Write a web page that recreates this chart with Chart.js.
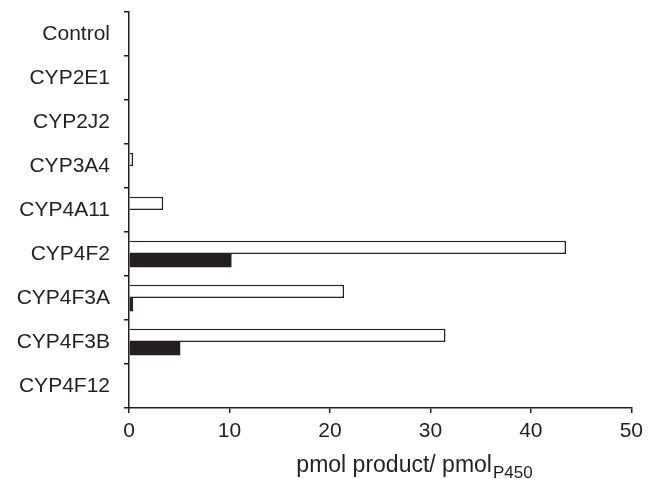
<!DOCTYPE html>
<html>
<head>
<meta charset="utf-8">
<script src="https://cdn.jsdelivr.net/npm/chart.js@4"></script>
<style>
	body { margin: 0; background: #fff; }
	canvas { display: block; }
</style>
</head>
<body>
<canvas id="grafico" width="649" height="479"></canvas>
<script>
const categorias = ['Control', 'CYP2E1', 'CYP2J2', 'CYP3A4', 'CYP4A11', 'CYP4F2', 'CYP4F3A', 'CYP4F3B', 'CYP4F12'];
// barras blancas (borde negro)
const valoresBlancos = [null, null, null, 0.4, 3.4, 43.5, 21.4, 31.5, null];
// barras negras
const valoresNegros = [null, null, null, null, null, 10.2, 0.4, 5.1, null];
const ticksX = [0, 10, 20, 30, 40, 50];
const tituloX = 'pmol product/ pmol';
const tituloSub = 'P450';

const negro = '#231f20';
const fuente = { family: 'Liberation Sans, Arial, sans-serif', size: 21 };

// dibuja el titulo del eje x con subindice
const tituloPlugin = {
	id: 'tituloX',
	afterDraw(chart) {
		const ctx = chart.ctx;
		ctx.save();
		ctx.fillStyle = negro;
		ctx.textBaseline = 'alphabetic';
		ctx.font = '23px Liberation Sans, Arial, sans-serif';
		const w1 = ctx.measureText(tituloX).width;
		ctx.font = '17px Liberation Sans, Arial, sans-serif';
		const w2 = ctx.measureText(tituloSub).width;
		const x0 = 414 - (w1 + w2) / 2;
		ctx.font = '23px Liberation Sans, Arial, sans-serif';
		ctx.fillText(tituloX, x0, 472);
		ctx.font = '17px Liberation Sans, Arial, sans-serif';
		ctx.fillText(tituloSub, x0 + w1 + 1, 478);
		ctx.restore();
	},
};

new Chart(document.getElementById('grafico').getContext('2d'), {
	type: 'bar',
	data: {
		labels: categorias,
		datasets: [
			{
				data: valoresBlancos,
				backgroundColor: '#ffffff',
				borderColor: negro,
				borderWidth: 1.5,
				categoryPercentage: 0.6,
				barPercentage: 1,
			},
			{
				data: valoresNegros,
				backgroundColor: negro,
				borderWidth: 0,
				categoryPercentage: 0.6,
				barPercentage: 1,
			},
		],
	},
	options: {
		indexAxis: 'y',
		responsive: false,
		animation: false,
		layout: { padding: { top: 0, right: 16, left: 0, bottom: 0 } },
		plugins: {
			legend: { display: false },
			tooltip: { enabled: false },
		},
		scales: {
			x: {
				min: 0,
				max: 50,
				afterBuildTicks: (scale) => {
					scale.ticks = ticksX.map((v) => ({ value: v }));
				},
				afterFit: (scale) => { scale.height = 71; },
				ticks: { color: negro, font: fuente, padding: 6, maxRotation: 0 },
				grid: { drawOnChartArea: false, drawTicks: true, tickLength: 5, color: negro, lineWidth: 1.5 },
				border: { color: negro, width: 1.5 },
			},
			y: {
				afterFit: (scale) => {
					scale.width = 129;
					scale.paddingTop = 12; // eje empieza en y=12
					scale.paddingBottom = 0;
				},
				ticks: { color: negro, font: fuente, padding: 14 },
				grid: { drawOnChartArea: false, drawTicks: true, tickLength: 5, color: negro, lineWidth: 1.5, offset: true },
				border: { color: negro, width: 1.5 },
			},
		},
	},
	plugins: [tituloPlugin],
});
</script>
</body>
</html>
